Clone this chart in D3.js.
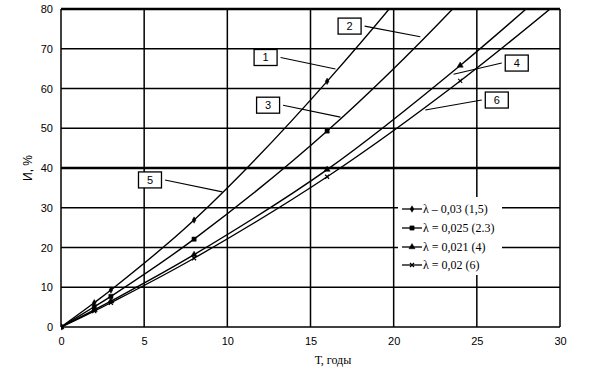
<!DOCTYPE html>
<html>
<head>
<meta charset="utf-8">
<script src="https://cdn.jsdelivr.net/npm/d3@7"></script>
<style>
    body { margin: 0; background: #fff; }
    svg { display: block; }
</style>
</head>
<body>
<svg id="graph" width="594" height="370"></svg>
<script>
// wear (%) vs service life (years) for four values of lambda
const years = [0, 2, 3, 8, 16, 24, 32];
const wear030 = [0, 6.1, 9.3, 26.9, 61.8, 103, 157];
const wear025 = [0, 5.1, 7.7, 22.1, 49.3, 82, 120];
const wear021 = [0, 4.3, 6.5, 18.2, 39.6, 65.8, 95];
const wear020 = [0, 4.0, 6.1, 17.3, 37.8, 61.9, 89];
const seriesNames = ['λ – 0,03 (1,5)', 'λ = 0,025 (2.3)', 'λ = 0,021 (4)', 'λ = 0,02 (6)'];
const xTicks = [0, 5, 10, 15, 20, 25, 30];
const yTicks = [0, 10, 20, 30, 40, 50, 60, 70, 80];
// numbered callouts: box centre and the point on the curve it points to
const calloutNums = ['1', '2', '3', '4', '5', '6'];
const calloutBox = [[12.3, 67.8], [17.35, 75.7], [12.45, 55.8], [27.4, 66.4], [5.35, 37.0], [26.2, 57.1]];
const calloutTip = [[16.5, 64.9], [21.6, 73.0], [16.8, 52.8], [23.6, 63.6], [9.7, 34.0], [21.9, 54.6]];

(function () {
    let svg = d3.select('#graph'),
        margin = {
            top: 9,
            right: 34,
            bottom: 43,
            left: 61
        },
        width = svg.attr('width') - margin.left - margin.right,
        height = svg.attr('height') - margin.top - margin.bottom,
        g = svg.append('g').attr('transform', `translate(${margin.left},${margin.top})`)
    ;
    let x = d3.scaleLinear().domain([0, 30]).range([0, width]),
        y = d3.scaleLinear().domain([0, 80]).range([height, 0])
    ;
    let series = [wear030, wear025, wear021, wear020].map(function (vals, i) {
        return {
            name: seriesNames[i],
            values: years.map(function (t, j) { return {t: t, v: vals[j]}; })
        };
    });
    let markers = [d3.symbolDiamond, d3.symbolSquare, d3.symbolTriangle, d3.symbolCross];
    let markerSize = [12, 18, 16, 0];
    let crossPath = 'M-2,-2L2,2M-2,2L2,-2';

    // grid
    g.selectAll('.hgrid')
        .data(yTicks)
        .enter().append('line')
        .attr('x1', 0).attr('x2', width)
        .attr('y1', function(d) { return y(d); })
        .attr('y2', function(d) { return y(d); })
        .style('stroke', '#000')
        .style('stroke-width', function(d) { return d === 40 || d === 80 ? 2.4 : 1.5; });

    g.selectAll('.vgrid')
        .data(xTicks)
        .enter().append('line')
        .attr('y1', 0).attr('y2', height)
        .attr('x1', function(d) { return x(d); })
        .attr('x2', function(d) { return x(d); })
        .style('stroke', '#000')
        .style('stroke-width', 1.5);

    // axes: labels only, lines come from the grid
    let xAxis = g.append('g')
        .attr('transform', 'translate(0,' + height + ')')
        .call(d3.axisBottom(x).tickValues(xTicks).tickSize(0).tickPadding(10));
    let yAxis = g.append('g')
        .call(d3.axisLeft(y).tickValues(yTicks).tickSize(0).tickPadding(8));
    [xAxis, yAxis].forEach(function (a) {
        a.select('.domain').remove();
        a.selectAll('text')
            .style('font', '11px "Liberation Sans", Arial, sans-serif')
            .attr('fill', '#000');
    });

    svg.append('text')
        .attr('transform', 'translate(32,' + (margin.top + y(40)) + ') rotate(-90)')
        .attr('text-anchor', 'middle')
        .style('font', '12px "Liberation Sans", Arial, sans-serif')
        .text('И, %');

    svg.append('text')
        .attr('x', 333)
        .attr('y', 364)
        .attr('text-anchor', 'middle')
        .style('font', '12px "Liberation Serif", "Times New Roman", serif')
        .text('Т, годы');

    // curves
    svg.append('defs').append('clipPath').attr('id', 'plot-clip')
        .append('rect').attr('x', 0).attr('y', -1).attr('width', width).attr('height', height + 6);

    let line = d3.line()
        .curve(d3.curveCatmullRom)
        .x(function(d) { return x(d.t); })
        .y(function(d) { return y(d.v); })
    ;

    let curves = g.append('g').attr('clip-path', 'url(#plot-clip)');
    let curve = curves.selectAll('.curve')
        .data(series)
        .enter().append('g');

    curve.append('path')
        .attr('d', function(d) { return line(d.values); })
        .style('fill', 'none')
        .style('stroke', '#000')
        .style('stroke-width', 1.4);

    curve.each(function (s, i) {
        d3.select(this).selectAll('.pt')
            .data(s.values.filter(function (d) { return d.v <= 80; }))
            .enter().append('path')
            .attr('transform', function(d) { return 'translate(' + x(d.t) + ',' + y(d.v) + ')'; })
            .attr('d', i === 3 ? crossPath : d3.symbol().type(markers[i]).size(markerSize[i])())
            .style('fill', '#000')
            .style('stroke', '#000')
            .style('stroke-width', i === 3 ? 1.2 : 0.5);
    });

    // callouts
    calloutNums.forEach(function (n, i) {
        let bx = x(calloutBox[i][0]), by = y(calloutBox[i][1]);
        let tx = x(calloutTip[i][0]), ty = y(calloutTip[i][1]);
        let sx = tx > bx ? bx + 15 : bx - 15;
        g.append('line')
            .attr('x1', sx).attr('y1', by)
            .attr('x2', tx).attr('y2', ty)
            .style('stroke', '#000')
            .style('stroke-width', 1.1);
        g.append('rect')
            .attr('x', bx - 11.5).attr('y', by - 8)
            .attr('width', 23).attr('height', 16)
            .attr('fill', '#fff')
            .style('stroke', '#000')
            .style('stroke-width', 1.3);
        g.append('text')
            .attr('x', bx).attr('y', by + 4)
            .attr('text-anchor', 'middle')
            .style('font', '11px "Liberation Sans", Arial, sans-serif')
            .text(n);
    });

    // legend
    let legend = svg.append('g').attr('transform', 'translate(398,197)');
    legend.append('rect')
        .attr('width', 104).attr('height', 78)
        .attr('fill', '#fff');
    let item = legend.selectAll('.item')
        .data(series)
        .enter().append('g')
        .attr('transform', function(d, i) { return 'translate(4,' + [12, 31, 50, 68][i] + ')'; });
    item.append('line')
        .attr('x1', 0).attr('x2', 20)
        .style('stroke', '#000')
        .style('stroke-width', 1.3);
    item.append('path')
        .attr('transform', 'translate(10,0)')
        .attr('d', function(d, i) { return i === 3 ? crossPath : d3.symbol().type(markers[i]).size(markerSize[i])(); })
        .style('fill', '#000')
        .style('stroke', '#000')
        .style('stroke-width', function(d, i) { return i === 3 ? 1.2 : 0.5; });
    item.append('text')
        .attr('x', 21)
        .attr('dy', '0.35em')
        .style('font', '12px "Liberation Serif", "Times New Roman", serif')
        .text(function(d) { return d.name; });
}());
</script>
</body>
</html>
